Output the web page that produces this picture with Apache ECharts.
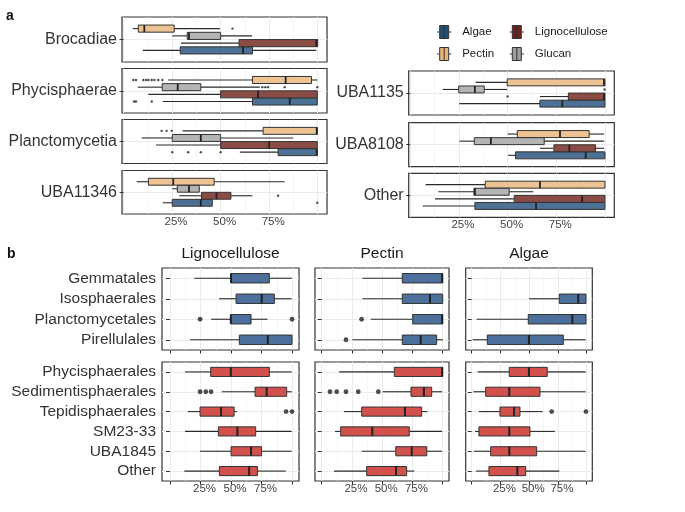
<!DOCTYPE html>
<html><head><meta charset="utf-8">
<script src="https://cdn.jsdelivr.net/npm/echarts@6/dist/echarts.min.js"></script>
<style>html,body{margin:0;padding:0;background:#fff}#c{width:685px;height:512px}</style>
</head><body><div id="c"></div>
<script>
// ================= DATA (values in %, [min, Q1, median, Q3, max]) =================
const polySaccharides = ['Algae', 'Lignocellulose', 'Pectin', 'Glucan'];
const taxaA = ['Brocadiae', 'Phycisphaerae', 'Planctomycetia', 'UBA11346', 'UBA1135', 'UBA8108', 'Other'];

const aPectin = [[4.7,7.6,10.7,26.1,49.6],[23.0,66.4,83.5,96.8,99.8],[30.4,71.9,99.5,99.8,99.8],[6.8,12.8,25.6,46.7,83.0],[33.6,49.8,99.5,100,100],[50.0,55.0,76.9,91.9,99.6],[7.9,38.5,66.6,100,100]];
const aGlucan = [[25.1,32.8,33.7,50.0,66.2],[7.3,19.9,27.9,39.8,70.2],[9.4,25.1,39.8,50.0,87.3],[25.1,27.7,33.7,39.0,39.3],[16.6,24.9,33.2,38.0,49.8],[25.2,32.9,41.4,68.8,99.6],[14.4,32.7,33.2,50.8,63.2]];
const aLigno = [[29.6,59.5,99.3,100,100],[12.8,50.0,69.3,99.8,99.8],[16.7,50.0,75.0,99.8,99.8],[28.7,40.2,47.9,55.3,66.4],[66.6,81.2,99.5,100,100],[66.6,73.8,81.7,95.2,99.6],[12.7,53.4,88.3,100,100]];
const aAlgae = [[9.9,29.2,61.6,66.4,99.3],[20.2,66.4,85.6,99.8,99.8],[59.9,79.6,99.5,99.8,99.8],[20.2,25.1,39.8,45.7,45.9],[25.2,66.6,78.1,100,100],[50.3,54.1,90.1,100,100],[6.4,33.2,64.6,100,100]];

const aPectinOut = [[56.1],[5.0,6.4,10.2,11.6,12.8,14.5,15.9,17.9,20.0],[19.6,22.2,24.8],[],[],[],[]];
const aGlucanOut = [[],[71.5,73.0,74.4,83.0,99.8],[],[],[99.8],[],[]];
const aLignoOut = [[],[],[],[79.6],[50.0],[],[]];
const aAlgaeOut = [[],[5.4,6.4,14.5],[25.1,33.3,39.8,50.0],[99.8],[],[],[]];

const substrates = ['Lignocellulose', 'Pectin', 'Algae'];
const bOrdersTop = ['Gemmatales', 'Isosphaerales', 'Planctomycetales', 'Pirellulales'];
const bOrdersBottom = ['Phycisphaerales', 'Sedimentisphaerales', 'Tepidisphaerales', 'SM23-33', 'UBA1845', 'Other'];

const bLignoTop = [[19.9,49.8,50.0,81.4,99.7],[40.2,54.1,75.1,85.5,99.7],[33.6,49.8,49.8,66.4,79.8],[16.4,56.8,80.1,100,100]];
const bLignoTopOut = [[],[],[24.6,100],[]];
const bLignoBottom = [[12.3,33.3,49.8,81.4,99.7],[42.4,69.7,79.2,95.6,99.7],[14.5,24.6,41.8,52.5,54.7],[12.3,39.6,55.2,70.2,99.7],[24.6,50.0,66.4,75.0,99.7],[11.7,40.4,64.8,71.6,94.8]];
const bLignoBottomOut = [[],[24.6,29.3,33.6],[95.1,100],[],[],[]];

const bPectinTop = [[33.6,66.6,99.5,100,100],[33.6,66.6,89.5,100,100],[40.5,75.2,99.5,100,100],[25.3,66.6,81.8,95.0,100]];
const bPectinTopOut = [[],[],[33.0],[20.1]];
const bPectinBottom = [[14.5,60.0,99.5,100,100],[50.4,73.8,84.5,90.9,99.5],[18.4,33.1,68.8,82.6,87.3],[11.0,15.7,41.8,72.4,99.5],[33.1,61.2,74.4,86.8,99.5],[10.2,37.2,61.4,70.2,76.5]];
const bPectinBottomOut = [[],[6.9,12.4,20.1,30.2,46.8],[],[],[],[]];

const bAlgaeTop = [null,[49.8,76.2,92.7,99.4,99.4],[4.3,49.2,87.5,99.4,99.4],[0.9,13.6,49.8,79.7,99.1]];
const bAlgaeTopOut = [[],[],[],[]];
const bAlgaeBottom = [[5.2,32.7,49.8,65.7,99.1],[1.4,12.2,32.7,59.4,99.1],[6.3,24.6,36.8,42.0,61.7],[2.9,6.3,32.7,50.7,72.4],[2.0,16.5,32.7,56.5,99.1],[3.7,15.0,39.7,47.0,76.2]];
const bAlgaeBottomOut = [[],[],[69.6,99.4],[],[],[]];

const majorTicks = [0, 25, 50, 75, 100];
const minorTicks = [12.5, 37.5, 62.5, 87.5];
const tickLabels = [25, 50, 75];

// ================= STYLE / LAYOUT =================
const FONT = '"Liberation Sans", Arial, Helvetica, sans-serif';
const fills = {Algae:'#4C7194', Lignocellulose:'#8B4C46', Pectin:'#EDC394', Glucan:'#B4B4B4'};
const keyColors = {Algae:'#1F4E79', Lignocellulose:'#6E1F1A', Pectin:'#E9B479', Glucan:'#9E9E9E'};
const rowFillB = ['#4C6F9B', '#D2514C'];
const polyRow = {Pectin:4, Glucan:3, Lignocellulose:2, Algae:1};
const statsA = {Algae:aAlgae, Lignocellulose:aLigno, Pectin:aPectin, Glucan:aGlucan};
const outA = {Algae:aAlgaeOut, Lignocellulose:aLignoOut, Pectin:aPectinOut, Glucan:aGlucanOut};
const statsB = {Lignocellulose:[bLignoTop,bLignoBottom], Pectin:[bPectinTop,bPectinBottom], Algae:[bAlgaeTop,bAlgaeBottom]};
const outB = {Lignocellulose:[bLignoTopOut,bLignoBottomOut], Pectin:[bPectinTopOut,bPectinBottomOut], Algae:[bAlgaeTopOut,bAlgaeBottomOut]};

const layoutA = [
  {left:122, top:17, width:205, height:45, labels:false},
  {left:122, top:68.5, width:205, height:44.5, labels:false},
  {left:122, top:119.5, width:205, height:44, labels:false},
  {left:122, top:170.5, width:205, height:43.5, labels:true},
  {left:408.7, top:71, width:205.6, height:44, labels:false},
  {left:408.7, top:122.7, width:205.6, height:44, labels:false},
  {left:408.7, top:173.3, width:205.6, height:44, labels:true}
];
const layoutBCols = [
  {left:162, width:137, min:-6.6, max:105.7, title:230.5},
  {left:315, width:134, min:-5.5, max:105.2, title:382},
  {left:465.7, width:126.6, min:-5.2, max:104.9, title:529}
];
const layoutBRows = [{top:268, height:82}, {top:362, height:119}];

const grids = [], xAxes = [], yAxes = [], series = [];

function addXAxes(gi, min, max, ticks, labels) {
  const idx = xAxes.length;
  xAxes.push({type:'value', gridIndex:gi, min:min, max:max, position:'bottom',
    axisLine:{show:false},
    axisTick:{show:ticks, customValues:majorTicks, length:3.5, lineStyle:{color:'#333', width:1}},
    axisLabel:{show:labels, customValues:tickLabels, formatter:'{value}%', fontSize:11.5, color:'#444',
      fontFamily:FONT, margin:2, padding:[0,0,0,8]},
    splitLine:{show:true, lineStyle:{color:'#EBEBEB', width:1}}
  });
  xAxes.push({type:'value', gridIndex:gi, min:min, max:max, position:'bottom',
    axisLine:{show:false}, axisTick:{show:false, customValues:minorTicks}, axisLabel:{show:false},
    splitLine:{show:true, lineStyle:{color:'#F2F2F2', width:0.6}}
  });
  return idx;
}

function boxRenderer(fill, heightFn, medW) {
  return function (params, api) {
    const c = api.value(0);
    const pLo = api.coord([api.value(1), c]);
    const pQ1 = api.coord([api.value(2), c]);
    const pMd = api.coord([api.value(3), c]);
    const pQ3 = api.coord([api.value(4), c]);
    const pHi = api.coord([api.value(5), c]);
    const h = heightFn(api);
    const y = pMd[1];
    return {type:'group', children:[
      {type:'line', shape:{x1:pLo[0], y1:y, x2:pQ1[0], y2:y}, style:{stroke:'#2A2A2A', lineWidth:1.1}},
      {type:'line', shape:{x1:pQ3[0], y1:y, x2:pHi[0], y2:y}, style:{stroke:'#2A2A2A', lineWidth:1.1}},
      {type:'rect', shape:{x:pQ1[0], y:y - h/2, width:pQ3[0] - pQ1[0], height:h}, style:{fill:fill, stroke:'#333', lineWidth:1}},
      {type:'line', shape:{x1:pMd[0], y1:y - h/2, x2:pMd[0], y2:y + h/2}, style:{stroke:'#222', lineWidth:medW}}
    ]};
  };
}

// ---------- panel a ----------
taxaA.forEach(function (taxon, t) {
  const L = layoutA[t];
  const gi = grids.length;
  grids.push({left:L.left, top:L.top, width:L.width, height:L.height, show:true,
    borderColor:'#333', borderWidth:1.2, backgroundColor:'#fff'});
  const xi = addXAxes(gi, -0.8, 104.8, false, L.labels);
  const yv = yAxes.length;
  yAxes.push({type:'value', gridIndex:gi, min:-0.6, max:5.6, show:false});
  yAxes.push({type:'category', gridIndex:gi, data:[taxon], position:'left',
    axisLine:{show:false},
    axisTick:{show:true, alignWithLabel:true, length:4, lineStyle:{color:'#333'}},
    axisLabel:{fontSize:16, color:'#333', margin:5, fontFamily:FONT},
    splitLine:{show:true, alignWithLabel:true, lineStyle:{color:'#EBEBEB', width:1}}});
  polySaccharides.forEach(function (p) {
    series.push({type:'custom', name:p, coordinateSystem:'cartesian2d', xAxisIndex:xi, yAxisIndex:yv,
      encode:{x:[1,2,3,4,5], y:0}, silent:true,
      itemStyle:{color:keyColors[p], borderColor:'#333'},
      renderItem:boxRenderer(fills[p], function (api) { return api.size([0, 0.98])[1]; }, 1.8),
      data:[[polyRow[p]].concat(statsA[p][t])]});
  });
  const outs = [];
  polySaccharides.forEach(function (p) { outA[p][t].forEach(function (v) { outs.push([v, polyRow[p]]); }); });
  series.push({type:'scatter', xAxisIndex:xi, yAxisIndex:yv, data:outs, symbolSize:2.4, silent:true,
    itemStyle:{color:'#222'}});
});

// ---------- panel b ----------
const titles = [
  {text:'a', left:6, top:9, padding:0, textStyle:{fontSize:14, fontWeight:'bold', color:'#111', fontFamily:FONT}},
  {text:'b', left:7, top:247, padding:0, textStyle:{fontSize:14, fontWeight:'bold', color:'#111', fontFamily:FONT}}
];
substrates.forEach(function (s, c) {
  const C = layoutBCols[c];
  titles.push({text:s, left:C.title, top:246, textAlign:'center', padding:0,
    textStyle:{fontSize:15.5, fontWeight:'normal', color:'#1A1A1A', fontFamily:FONT}});
  layoutBRows.forEach(function (R, r) {
    const gi = grids.length;
    grids.push({left:C.left, top:R.top, width:C.width, height:R.height, show:true,
      borderColor:'#333', borderWidth:1.2, backgroundColor:'#fff'});
    const xi = addXAxes(gi, C.min, C.max, true, r === 1);
    const cats = r === 0 ? bOrdersTop : bOrdersBottom;
    const yi = yAxes.length;
    yAxes.push({type:'category', gridIndex:gi, data:cats, inverse:true, position:'left',
      axisLine:{show:false},
      axisTick:{show:true, alignWithLabel:true, interval:0, length:4, lineStyle:{color:'#333'}},
      axisLabel:{show:c === 0, interval:0, hideOverlap:false, fontSize:15.5, color:'#333', margin:6, fontFamily:FONT},
      splitLine:{show:true, alignWithLabel:true, interval:0, lineStyle:{color:'#EBEBEB', width:1}}});
    const rows = [];
    statsB[s][r].forEach(function (st, i) { if (st) rows.push([i].concat(st)); });
    series.push({type:'custom', name:s + ' box', coordinateSystem:'cartesian2d', xAxisIndex:xi, yAxisIndex:yi,
      encode:{x:[1,2,3,4,5], y:0}, silent:true,
      renderItem:boxRenderer(rowFillB[r], function (api) { return api.size([0, 1])[1] * 0.46; }, 2),
      data:rows});
    const outs = [];
    outB[s][r].forEach(function (vals, i) { vals.forEach(function (v) { outs.push([v, i]); }); });
    series.push({type:'scatter', xAxisIndex:xi, yAxisIndex:yi, data:outs, symbolSize:4.8, silent:true,
      itemStyle:{color:'#222'}});
  });
});

const keyIcon = 'path://M0,6.5H2.5M2.5,0H11.5V13H2.5ZM7,0V13M11.5,6.5H14';
function legendItem(p) {
  return {name:p, icon:keyIcon, itemStyle:{color:keyColors[p], borderColor:'#333', borderWidth:1}};
}
const legendCommon = {orient:'vertical', itemWidth:14, itemHeight:14, itemGap:8, padding:0,
  selectedMode:false, textStyle:{fontSize:11.5, color:'#1A1A1A', fontFamily:FONT, padding:[0,0,0,6]}};

const chart = echarts.init(document.getElementById('c'), null, {renderer:'canvas'});
chart.setOption({
  animation:false,
  backgroundColor:'#fff',
  title:titles,
  legend:[
    Object.assign({left:436.7, top:25, data:['Algae','Pectin'].map(legendItem)}, legendCommon),
    Object.assign({left:509.3, top:25, data:['Lignocellulose','Glucan'].map(legendItem)}, legendCommon)
  ],
  grid:grids,
  xAxis:xAxes,
  yAxis:yAxes,
  series:series
});
</script>
</body></html>
